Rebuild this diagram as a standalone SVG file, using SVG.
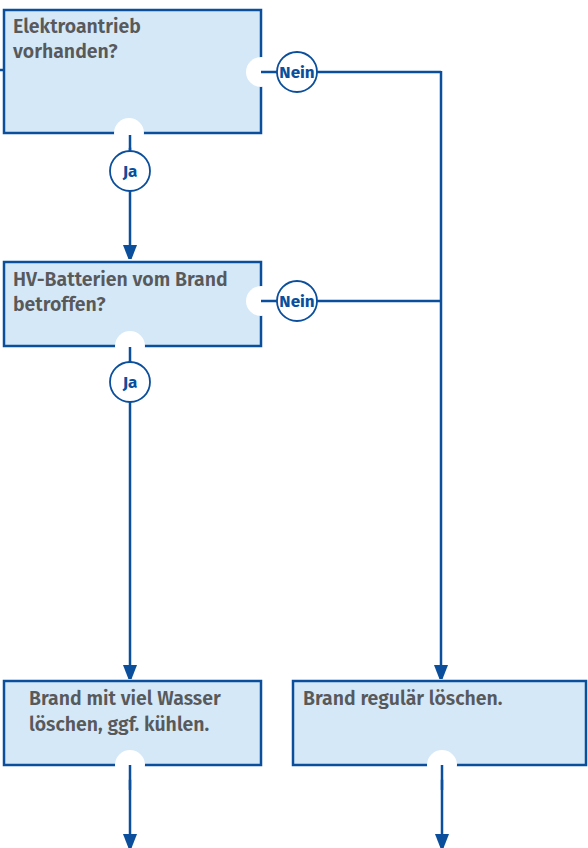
<svg xmlns="http://www.w3.org/2000/svg" width="588" height="848" viewBox="0 0 588 848">
<defs>
<style>
.box{fill:#d4e8f8;stroke:#0b4f9c;stroke-width:2.5}
.notch{fill:#fff}
.line{fill:none;stroke:#0b4f9c;stroke-width:2.5}
.lbl{fill:#fff;stroke:#0b4f9c;stroke-width:1.8}
.lt{font-family:"Fira Sans","Noto Sans","Open Sans",sans-serif;font-weight:700;font-size:17px;fill:#0b4f9c;text-anchor:middle}
.t{font-family:"Fira Sans","Noto Sans","Open Sans",sans-serif;font-weight:600;font-size:19.5px;fill:#58595b}
</style>
<marker id="ah" viewBox="0 0 14 18" refX="14" refY="7" markerWidth="14" markerHeight="18" markerUnits="userSpaceOnUse" orient="auto">
<path d="M0,0 L18,7 L0,14 Z" fill="#0b4f9c"/>
</marker>
</defs>
<g id="connectors">
<line class="line" x1="0" y1="70" x2="4" y2="70"/>
<line class="line" x1="261" y1="72" x2="441" y2="72"/>
<line class="line" x1="441" y1="71" x2="441" y2="679" marker-end="url(#ah)"/>
<line class="line" x1="261" y1="301" x2="441" y2="301"/>
<line class="line" x1="130" y1="135" x2="130" y2="259" marker-end="url(#ah)"/>
<line class="line" x1="130" y1="347" x2="130" y2="679" marker-end="url(#ah)"/>
<line class="line" x1="130" y1="767" x2="130" y2="848" marker-end="url(#ah)"/>
<line class="line" x1="442" y1="767" x2="442" y2="848" marker-end="url(#ah)"/>
</g>
<g id="n1">
<rect class="box" x="4" y="10" width="257" height="123"/>
<circle class="notch" cx="261" cy="72" r="15"/>
<circle class="notch" cx="129" cy="133" r="15"/>
<text class="t" x="13" y="33">Elektroantrieb</text>
<text class="t" x="13" y="58">vorhanden?</text>
</g>
<g id="n2">
<rect class="box" x="4" y="262" width="257" height="84"/>
<circle class="notch" cx="261" cy="301" r="15"/>
<circle class="notch" cx="130" cy="346" r="15"/>
<text class="t" x="13" y="286">HV-Batterien vom Brand</text>
<text class="t" x="13" y="311">betroffen?</text>
</g>
<g id="n3">
<rect class="box" x="4" y="681" width="257" height="84"/>
<circle class="notch" cx="130" cy="765" r="15"/>
<text class="t" x="29" y="705">Brand mit viel Wasser</text>
<text class="t" x="29" y="731">löschen, ggf. kühlen.</text>
</g>
<g id="n4">
<rect class="box" x="293" y="681" width="293" height="84"/>
<circle class="notch" cx="442" cy="765" r="15"/>
<text class="t" x="303" y="705">Brand regulär löschen.</text>
</g>
<g id="connectors-after">
<line class="line" x1="261" y1="72" x2="277" y2="72"/>
<line class="line" x1="261" y1="301" x2="277" y2="301"/>
<line class="line" x1="130" y1="135" x2="130" y2="150"/>
<line class="line" x1="130" y1="347" x2="130" y2="362"/>
<line class="line" x1="130" y1="765" x2="130" y2="790"/>
<line class="line" x1="442" y1="765" x2="442" y2="790"/>
</g>
<g id="l-nein1"><circle class="lbl" cx="297" cy="72" r="20"/><text class="lt" x="297" y="78">Nein</text></g>
<g id="l-ja1"><circle class="lbl" cx="130" cy="171" r="20"/><text class="lt" x="130" y="177">Ja</text></g>
<g id="l-nein2"><circle class="lbl" cx="297" cy="301" r="20"/><text class="lt" x="297" y="307">Nein</text></g>
<g id="l-ja2"><circle class="lbl" cx="130" cy="382" r="20"/><text class="lt" x="130" y="388">Ja</text></g>
</svg>
